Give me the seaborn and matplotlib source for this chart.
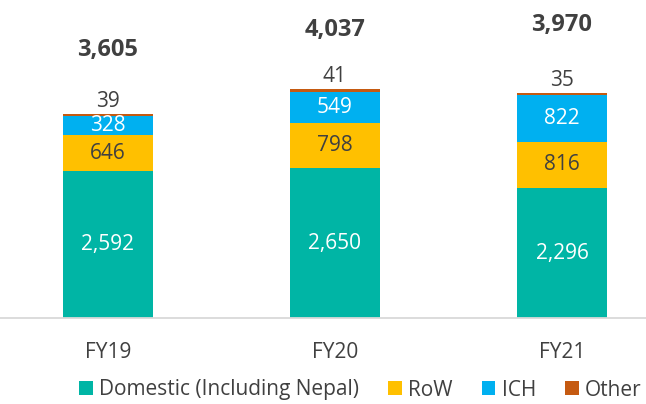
import numpy as np
import pandas as pd
import matplotlib.pyplot as plt
import seaborn as sns
from matplotlib.patches import Patch

# data
years = ["FY19", "FY20", "FY21"]
domestic = [2592, 2650, 2296]
row = [646, 798, 816]
ich = [328, 549, 822]
other = [39, 41, 35]
totals = [3605, 4037, 3970]

series_names = ["Domestic (Including Nepal)", "RoW", "ICH", "Other"]
colors = ["#00B5A5", "#FFC000", "#00B0F0", "#C55A11"]
txt_col = "#404040"
total_off = [46, 43, 49]  # points above bar top for the bold totals

sns.set_theme(style="white")
plt.rcParams['font.family'] = ['Open Sans', 'DejaVu Sans']

df = pd.DataFrame({"year": years, "Domestic": domestic, "RoW": row,
                   "ICH": ich, "Other": other})
parts = ["Domestic", "RoW", "ICH", "Other"]
cum = df[parts].cumsum(axis=1)

fig = plt.figure(figsize=(6.46, 4.04), dpi=100)
ax = fig.add_axes([0, 86 / 404, 1, 318 / 404])

# draw tallest stack first, then overlay the lower cumulative sums
for i in range(len(parts) - 1, -1, -1):
    sns.barplot(x=df["year"], y=cum[parts[i]], color=colors[i], width=0.4,
                saturation=1, ax=ax, edgecolor="none")

# segment labels
seg_txt = ["white", txt_col, "white"]
for j in range(len(years)):
    base = 0
    for i, p in enumerate(parts[:3]):
        v = df[p][j]
        ax.text(j, base + v / 2, f"{v:,}", ha="center", va="center",
                fontsize=15, color=seg_txt[i])
        base += v
    top = cum["Other"][j]
    ax.annotate(f"{other[j]:,}", (j, top), xytext=(0, 9), textcoords="offset points",
                ha="center", va="center", fontsize=15, color=txt_col)
    ax.annotate(f"{totals[j]:,}", (j, top), xytext=(0, total_off[j]), textcoords="offset points",
                ha="center", va="center", fontsize=17, fontweight="bold", color=txt_col)

ax.set_xlim(-108 / 227, (646 - 108) / 227)
ax.set_ylim(0, 318 / 0.0566)
ax.set_xlabel("")
ax.set_ylabel("")
ax.set_yticks([])
ax.tick_params(axis="x", length=0, pad=17, labelsize=15, labelcolor=txt_col)
for s in ["left", "right", "top"]:
    ax.spines[s].set_visible(False)
ax.spines["bottom"].set_color("#D9D9D9")
ax.spines["bottom"].set_linewidth(1.3)

handles = [Patch(facecolor=c, edgecolor="none") for c in colors]
fig.legend(handles, series_names, loc="center", bbox_to_anchor=(0.558, 1 - 390 / 404),
           ncol=4, frameon=False, fontsize=15, handlelength=0.65, handleheight=0.65,
           handletextpad=0.3, columnspacing=1.4, labelcolor=txt_col)

fig.savefig("out.png", dpi=100)
